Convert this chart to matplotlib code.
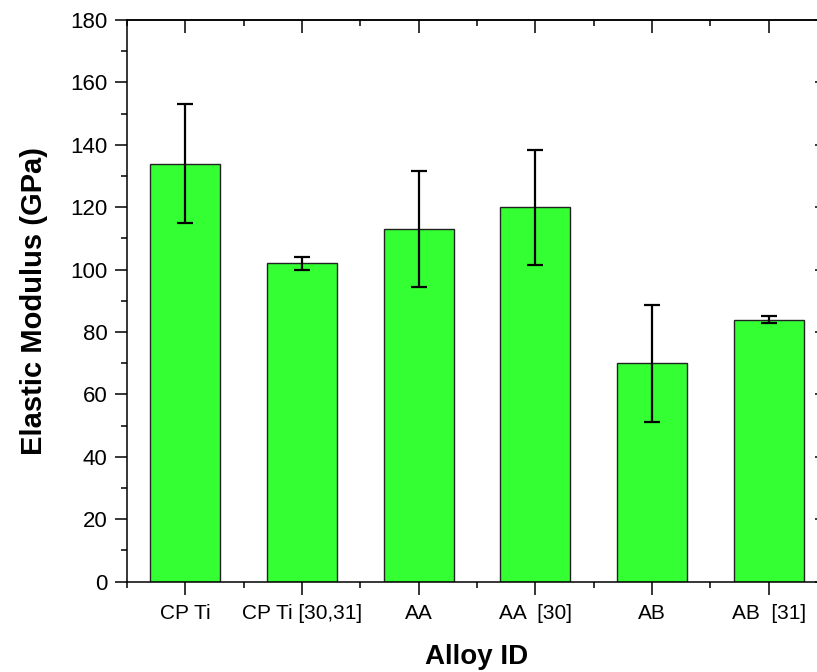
import numpy as np
import matplotlib
matplotlib.use("Agg")
import matplotlib.pyplot as plt
from matplotlib.ticker import MultipleLocator, FixedLocator

# data
alloys = ['CP Ti', 'CP Ti [30,31]', 'AA', 'AA  [30]', 'AB', 'AB  [31]']
modulus = [134, 102, 113, 120, 70, 84]
modulus_err = [19, 2, 18.5, 18.5, 18.7, 1]

plt.rcParams['font.family'] = ['Liberation Sans', 'DejaVu Sans']

fig = plt.figure(figsize=(8.17, 6.72), dpi=100)
# axes run a bit past the right edge, like the cropped original
ax = fig.add_axes([127/817, 90.3/672, 700/817, 561.7/672])

x = np.arange(len(alloys))
ax.bar(x, modulus, width=0.6, color='#33ff33', edgecolor='#222222', linewidth=1.0, zorder=2)
ax.errorbar(x, modulus, yerr=modulus_err, fmt='none', ecolor='black',
            elinewidth=1.6, capsize=5.5, capthick=1.6, zorder=3)

ax.set_xlim(-0.5, len(alloys) - 0.5)
ax.set_ylim(0, 180)
ax.set_xticks(x)
ax.set_xticklabels(alloys, fontsize=15)
ax.xaxis.set_minor_locator(FixedLocator(np.arange(-0.5, len(alloys), 1)))
ax.yaxis.set_major_locator(MultipleLocator(20))
ax.yaxis.set_minor_locator(MultipleLocator(10))
ax.tick_params(axis='y', labelsize=16)
ax.tick_params(which='major', direction='out', length=9, width=1.1, pad=5)
ax.tick_params(axis='x', pad=7)
ax.tick_params(which='minor', direction='out', length=4.5, width=1.1)

for s in ax.spines.values():
    s.set_linewidth(1.1)

# mirrored ticks pointing inward on top and right
top = ax.secondary_xaxis('top')
top.set_xticks(x)
top.xaxis.set_minor_locator(FixedLocator(np.arange(-0.5, len(alloys), 1)))
top.tick_params(which='major', direction='in', length=9, width=1.1, labeltop=False)
top.tick_params(which='minor', direction='in', length=4.5, width=1.1)
top.spines['top'].set_linewidth(1.1)

right = ax.secondary_yaxis('right')
right.yaxis.set_major_locator(MultipleLocator(20))
right.yaxis.set_minor_locator(MultipleLocator(10))
right.tick_params(which='major', direction='in', length=9, width=1.1, labelright=False)
right.tick_params(which='minor', direction='in', length=4.5, width=1.1)

ax.set_xlabel('Alloy ID', fontsize=20, fontweight='bold', labelpad=15)
ax.set_ylabel('Elastic Modulus (GPa)', fontsize=21, fontweight='bold', labelpad=16)

fig.savefig('out.png', dpi=100)
